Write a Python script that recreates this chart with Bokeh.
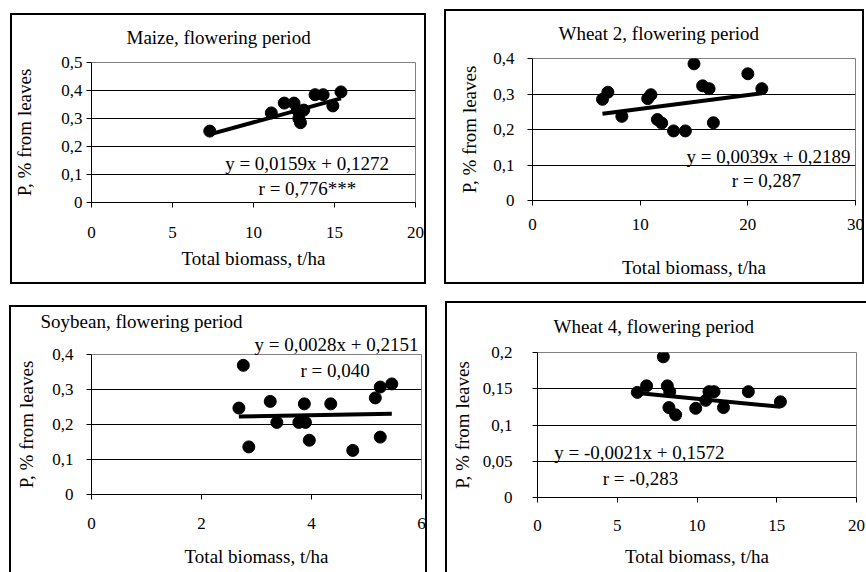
from bokeh.plotting import figure
from bokeh.layouts import column, row
from bokeh.models import FixedTicker, Label, Range1d, Title, Spacer
from bokeh.embed import file_html
from bokeh.resources import INLINE

FONT = "Liberation Serif"

titles = ["Maize, flowering period", "Wheat 2, flowering period",
          "Soybean, flowering period", "Wheat 4, flowering period"]
x_label = "Total biomass, t/ha"
y_label = "P, % from leaves"

# ---- data ----
maize_x = [7.3, 11.1, 11.9, 12.5, 12.7, 12.8, 12.9, 13.1, 13.8, 14.3, 14.9, 15.4]
maize_y = [0.255, 0.32, 0.355, 0.355, 0.33, 0.30, 0.285, 0.33, 0.385, 0.385, 0.345, 0.395]

wheat2_x = [6.5, 7.0, 8.3, 10.7, 11.0, 11.6, 12.0, 13.1, 14.2, 15.0, 15.8, 16.4, 16.8, 20.0, 21.3]
wheat2_y = [0.285, 0.305, 0.237, 0.287, 0.298, 0.228, 0.218, 0.196, 0.196, 0.385, 0.323, 0.315,
            0.219, 0.357, 0.315]

soy_x = [2.68, 2.76, 2.86, 3.25, 3.37, 3.77, 3.87, 3.89, 3.96, 4.35, 4.75, 5.16, 5.25, 5.25, 5.46]
soy_y = [0.247, 0.369, 0.136, 0.266, 0.206, 0.206, 0.259, 0.206, 0.155, 0.259, 0.126, 0.276,
         0.307, 0.164, 0.316]

wheat4_x = [6.26, 6.84, 7.89, 8.14, 8.24, 8.29, 8.66, 9.92, 10.55, 10.75, 11.07, 11.66, 13.22, 15.23]
wheat4_y = [0.145, 0.154, 0.194, 0.154, 0.124, 0.146, 0.114, 0.123, 0.134, 0.146, 0.146, 0.124,
            0.146, 0.132]

slopes = [0.0159, 0.0039, 0.0028, -0.0021]
intercepts = [0.1272, 0.2189, 0.2151, 0.1572]
equations = ["y = 0,0159x + 0,1272", "y = 0,0039x + 0,2189",
             "y = 0,0028x + 0,2151", "y = -0,0021x + 0,1572"]
r_texts = ["r = 0,776***", "r = 0,287", "r = 0,040", "r = -0,283"]

x_ticks = [[0, 5, 10, 15, 20], [0, 10, 20, 30], [0, 2, 4, 6], [0, 5, 10, 15, 20]]
y_ticks = [[0, 0.1, 0.2, 0.3, 0.4, 0.5], [0, 0.1, 0.2, 0.3, 0.4],
           [0, 0.1, 0.2, 0.3, 0.4], [0, 0.05, 0.1, 0.15, 0.2]]
y_tick_labels = [["0", "0,1", "0,2", "0,3", "0,4", "0,5"], ["0", "0,1", "0,2", "0,3", "0,4"],
                 ["0", "0,1", "0,2", "0,3", "0,4"], ["0", "0,05", "0,1", "0,15", "0,2"]]

TXT = "19px"
TICK = "17px"


def add_title(p, text, offset, valign, standoff):
    p.add_layout(Title(text=text, align="left", offset=offset, vertical_align=valign,
                       standoff=standoff, text_font=FONT, text_font_size=TXT,
                       text_font_style="normal", text_color="black"), "above")


def make_panel(i, xs, ys, w, h, mb, shadow, ylab_standoff, ytick_standoff,
               xtick_standoff, xlab_standoff, eq_pos=None, r_pos=None):
    xt, yt = x_ticks[i], y_ticks[i]
    p = figure(width=w, height=h, title=None,
               x_range=Range1d(xt[0], xt[-1]), y_range=Range1d(yt[0], yt[-1]),
               output_backend="svg", toolbar_location=None,
               min_border_left=mb[0], min_border_right=mb[1],
               min_border_top=mb[2], min_border_bottom=mb[3],
               styles={"box-shadow": shadow},
               border_fill_alpha=0, background_fill_color="white",
               outline_line_color="#808080", outline_line_width=1)
    p.xgrid.visible = False
    p.ygrid.ticker = FixedTicker(ticks=yt[1:-1])
    p.ygrid.grid_line_color = "black"
    p.ygrid.grid_line_width = 1

    p.xaxis.ticker = FixedTicker(ticks=xt)
    p.yaxis.ticker = FixedTicker(ticks=yt)
    p.yaxis.major_label_overrides = {v: s for v, s in zip(yt, y_tick_labels[i])}
    for ax in (p.xaxis[0], p.yaxis[0]):
        ax.axis_line_color = "black"
        ax.axis_line_width = 1
        ax.major_tick_line_color = "black"
        ax.major_tick_in = 0
        ax.major_tick_out = 5
        ax.minor_tick_line_color = None
        ax.major_label_text_font = FONT
        ax.major_label_text_font_size = TICK
        ax.major_label_text_color = "black"
        ax.axis_label_text_font = FONT
        ax.axis_label_text_font_size = TXT
        ax.axis_label_text_font_style = "normal"
        ax.axis_label_text_color = "black"
    p.xaxis.axis_label = x_label
    p.yaxis.axis_label = y_label
    p.yaxis.axis_label_standoff = ylab_standoff
    p.yaxis.major_label_standoff = ytick_standoff
    p.xaxis.major_label_standoff = xtick_standoff
    p.xaxis.axis_label_standoff = xlab_standoff

    p.scatter(xs, ys, size=12, color="black")
    x0, x1 = min(xs), max(xs)
    p.line([x0, x1], [slopes[i] * x0 + intercepts[i], slopes[i] * x1 + intercepts[i]],
           line_width=4, color="black")

    common = dict(text_font=FONT, text_font_size=TXT, text_color="black",
                  text_baseline="alphabetic", text_align="center")
    if eq_pos is not None:
        p.add_layout(Label(x=eq_pos[0], y=eq_pos[1], text=equations[i], **common))
    if r_pos is not None:
        p.add_layout(Label(x=r_pos[0], y=r_pos[1], text=r_texts[i], **common))
    return p


p1 = make_panel(0, maize_x, maize_y, 416, 271, (81, 11, 49, 82), "inset 0 0 0 2px #000",
                23, 4, 19, 7, (13.31, 0.1405), (13.33, 0.049))
add_title(p1, titles[0], 35, "top", 26)

p2 = make_panel(1, wheat2_x, wheat2_y, 420, 275, (88, 9, 49, 84), "inset 0 0 0 2px #000",
                10, 13, 13, 24, (21.92, 0.125), (21.73, 0.0553))
add_title(p2, titles[1], 26, "top", 26)

p3 = make_panel(2, soy_x, soy_y, 418, 267, (82, 6, 49, 78),
                "inset 2px 2px 0 0 #000, inset -2px 0 0 0 #000",
                12, 13, 18, 14, None, (4.43, 0.354))
add_title(p3, equations[2], 163, "bottom", 0)
add_title(p3, titles[2], -51, "bottom", 0)

p4 = make_panel(3, wheat4_x, wheat4_y, 421, 271, (92, 10, 51, 75), "inset 2px 2px 0 0 #000",
                7, 20, 17, 12, (6.39, 0.0625), (6.46, 0.0258))
add_title(p4, titles[3], 16, "top", 28)

row1 = row(Spacer(width=10, height=1), column(Spacer(width=1, height=13), p1),
           Spacer(width=18, height=1), column(Spacer(width=1, height=9), p2))
row2 = row(Spacer(width=9, height=1), column(Spacer(width=1, height=21), p3),
           Spacer(width=18, height=1), column(Spacer(width=1, height=17), p4))
layout = column(row1, row2)
open("out.html", "w").write(file_html(layout, INLINE))
